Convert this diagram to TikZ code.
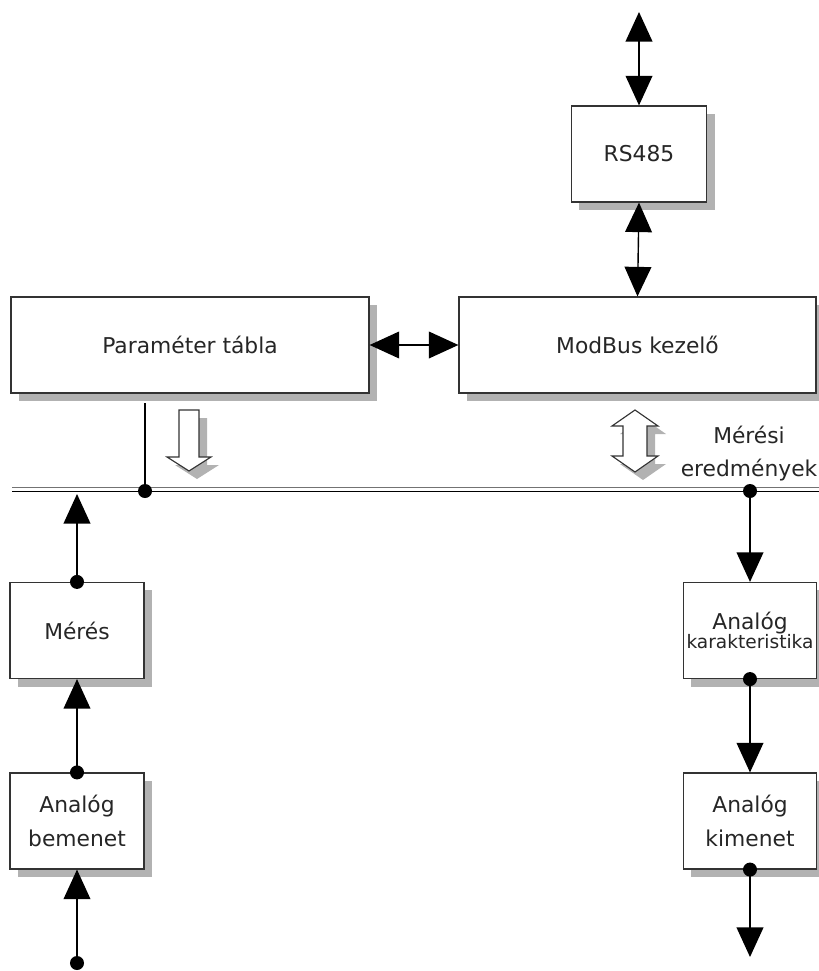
\documentclass[tikz,border=0pt]{standalone}
\usepackage{fontspec}
\setmainfont{DejaVu Sans}
\usetikzlibrary{arrows.meta,shadows}

\tikzset{
  blokk/.style={draw=black!80, line width=0.8pt, fill=white, inner sep=0pt,
    minimum width=#1, minimum height=2.4cm, align=center,
    font=\fontsize{15.5}{24.5}\selectfont, text=black!85,
    drop shadow={shadow xshift=2mm, shadow yshift=-2mm, fill=black!30, opacity=1}},
  pont/.style={circle, fill=black, inner sep=0pt, minimum size=0.35cm},
  nyil/.style={line width=1pt, -{Triangle[length=21pt,width=19pt]}},
  kettos/.style={line width=1pt, {Triangle[length=21pt,width=19pt]}-{Triangle[length=21pt,width=19pt]}},
  ureges/.style={draw=black!80, line width=0.8pt, fill=white,
    drop shadow={shadow xshift=2mm, shadow yshift=-2mm, fill=black!30, opacity=1}}
}

\begin{document}
\begin{tikzpicture}[x=0.025cm, y=-0.025cm]
	\useasboundingbox (0,0) rectangle (819,971);
	% blokkok
	\node[blokk=3.375cm] (rs) at (639,154) {RS485};
	\node[blokk=8.95cm] (param) at (190,345) {Paraméter tábla};
	\node[blokk=8.925cm] (modbus) at (637.5,345) {ModBus kezelő};
	\node[blokk=3.35cm] (meres) at (77,630.5) {Mérés};
	\node[blokk=3.35cm] (abem) at (77,821) {Analóg\\bemenet};
	\node[blokk=3.325cm] (akar) at (750,630.5) {Analóg\\[-11pt]{\fontsize{13.2}{15}\selectfont karakteristika}};
	\node[blokk=3.325cm] (akim) at (750,821) {Analóg\\kimenet};
	\node[font=\fontsize{15.5}{23.5}\selectfont, text=black!85, align=center] (mer) at (749,454) {Mérési\\eredmények};
	% busz
	\coordinate (buszB) at (12,490);
	\coordinate (buszJ) at (819,490);
	\draw[black!55, line width=0.8pt] ([yshift=1.6pt]buszB) -- ([yshift=1.6pt]buszJ);
	\draw[line width=1pt] ([yshift=-1.2pt]buszB) -- ([yshift=-1.2pt]buszJ);
	% pontok
	\node[pont] (p1) at (145,491) {};
	\node[pont] (p2) at (750,491) {};
	\node[pont] (p3) at (meres.north) {};
	\node[pont] (p4) at (abem.north) {};
	\node[pont] (p5) at (77,963) {};
	\node[pont] (p6) at (akar.south) {};
	\node[pont] (p7) at (akim.south) {};
	\coordinate (fent) at (639,12);
	\coordinate (lent) at (750,957);
	\coordinate (pv) at (145,403);
	\coordinate (bfel) at (77,494);
	% nyilak
	\draw[kettos] (fent) -- (rs.north);
	\draw[kettos] (rs.south) -- (modbus.north);
	\draw[kettos] (param.east) -- (modbus.west);
	\draw[line width=1pt] (pv) -- (p1);
	\draw[nyil] (p3.center) -- (bfel);
	\draw[nyil] (p4.center) -- (meres.south);
	\draw[nyil] (p5.center) -- (abem.south);
	\draw[nyil] (p2.center) -- (akar.north);
	\draw[nyil] (p6.center) -- (akim.north);
	\draw[nyil] (p7.center) -- (lent);
	% ures nyilak
	\filldraw[ureges] (179,410) -- (199,410) -- (199,457) -- (211,457) -- (189,471)
		-- (167,457) -- (179,457) -- cycle;
	\filldraw[ureges] (635,410) -- (658,426) -- (647,426) -- (647,456) -- (658,456)
		-- (635,472) -- (612,456) -- (623,456) -- (623,426) -- (612,426) -- cycle;
\end{tikzpicture}
\end{document}
